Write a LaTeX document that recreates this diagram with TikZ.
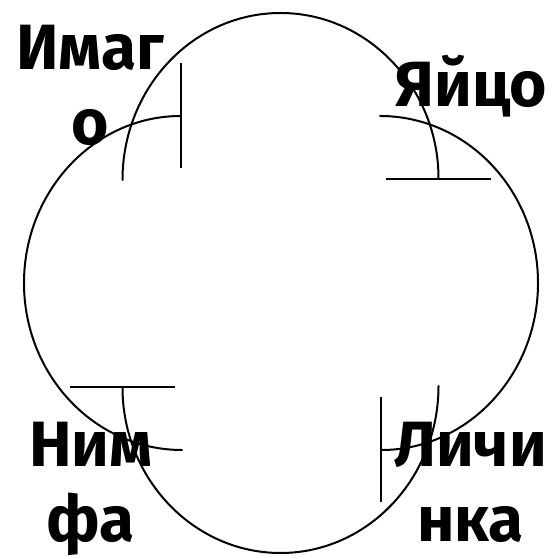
\documentclass[tikz,border=0pt]{standalone}
\usepackage{fontspec}
\setmainfont{Fira Sans}[BoldFont={Fira Sans Bold}]
\usetikzlibrary{arrows.meta}

\begin{document}
\begin{tikzpicture}[x=1pt,y=1pt,line cap=round,
	stage arc/.style={line width=2pt,-{Bar[width=105pt,line width=2pt]}},
	stage/.style={anchor=base,align=center,inner sep=0pt,
		font=\fontsize{64pt}{75pt}\selectfont\bfseries}]
	\useasboundingbox (0,0) rectangle (555,559);
	% four half ellipses, each closed by a bar
	\foreach \cx/\cy/\a in {280.5/379/180,380/276/90,280.5/173/0,182/276/270} {
		\draw[stage arc] (\cx,\cy) ++(\a:158 and 167)
		arc[start angle=\a,end angle=\a-180,x radius=158,y radius=167];
	}
	% base anchor sits on the last line
	\node[stage] (egg) at (471.5,452) {Яйцо};
	\node[stage] (larva) at (470.5,17) {Личи\\нка};
	\node[stage] (nymph) at (91,17) {Ним\\фа};
	\node[stage] (imago) at (90.5,414) {Имаг\\о};
\end{tikzpicture}
\end{document}
